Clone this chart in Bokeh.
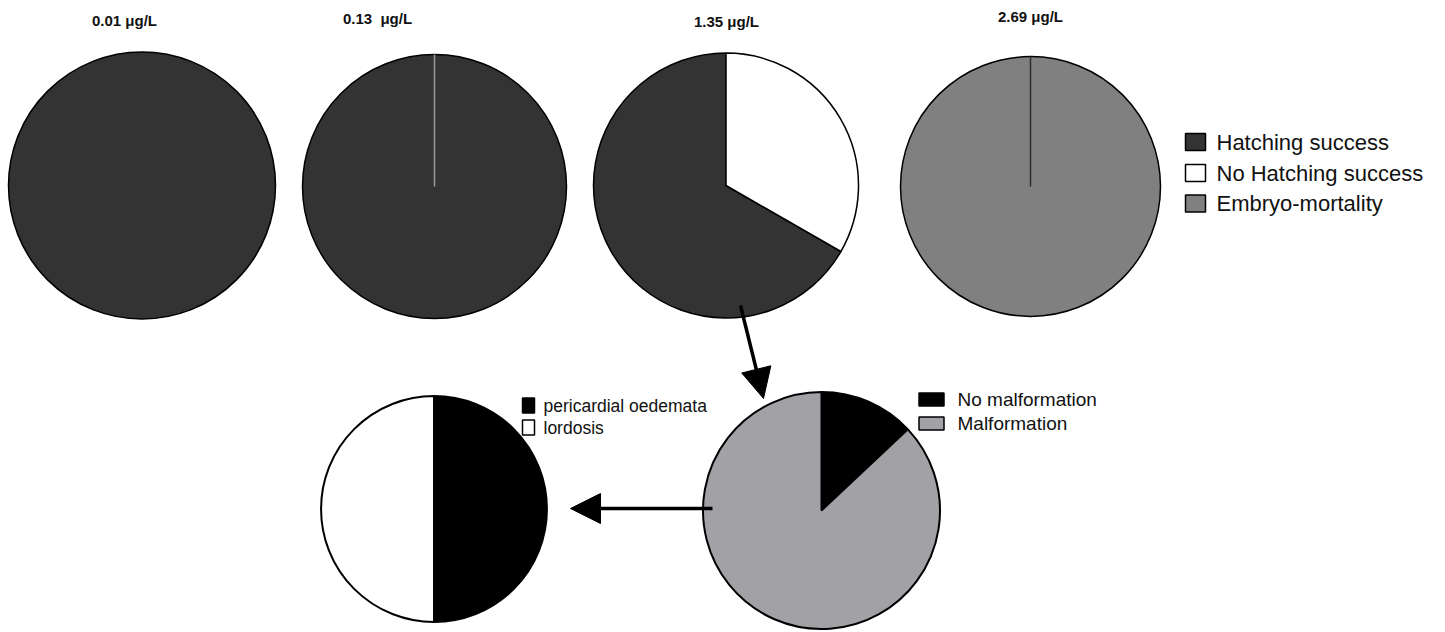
import math
from bokeh.plotting import figure
from bokeh.models import Range1d, Arrow, NormalHead
from bokeh.core.properties import value
from bokeh.embed import file_html
from bokeh.resources import INLINE

# ---------------- data ----------------
top_titles = ["0.01 μg/L", "0.13\u00a0 μg/L", "1.35 μg/L", "2.69 μg/L"]
top_categories = ["Hatching success", "No Hatching success", "Embryo-mortality"]
hatching_success = [100, 100, 66.7, 0]
no_hatching_success = [0, 0, 33.3, 0]
embryo_mortality = [0, 0, 0, 100]

malformation_categories = ["No malformation", "Malformation"]
malformation_values = [13, 87]

defect_categories = ["pericardial oedemata", "lordosis"]
defect_values = [50, 50]

# ---------------- styles / layout ----------------
top_colors = ["#333333", "#ffffff", "#808080"]
malf_colors = ["#000000", "#a2a2a6"]
defect_colors = ["#000000", "#ffffff"]
divider_colors = [None, "#9a9a9a", None, "#2e2e2e"]

W, H = 1445, 632
FONT = value("Liberation Sans")


def Y(s):
    return H - s


p = figure(width=W, height=H, output_backend="svg", toolbar_location=None,
           x_range=Range1d(0, W), y_range=Range1d(0, H),
           x_axis_type=None, y_axis_type=None, min_border=0)
p.outline_line_color = None
p.grid.visible = False
p.background_fill_color = "white"


def draw_pie(cx, cy, r, vals, colors, lw=1.5, line_color="black", clockwise=True):
    total = float(sum(vals))
    sgn = -1 if clockwise else 1
    cum = 0.0
    for v, c in zip(vals, colors):
        if v <= 0:
            continue
        f0 = cum / total
        f1 = (cum + v) / total
        cum += v
        if f1 - f0 >= 0.9999:
            p.circle(x=[cx], y=[cy], radius=r, fill_color=c, line_color=line_color,
                     line_width=lw)
        else:
            p.wedge(x=[cx], y=[cy], radius=r,
                    start_angle=math.pi / 2 + sgn * 2 * math.pi * f0,
                    end_angle=math.pi / 2 + sgn * 2 * math.pi * f1,
                    direction="clock" if clockwise else "anticlock",
                    fill_color=c, line_color=line_color, line_width=lw)


# top row pies
top_centers = [(141.5, 185), (434, 186), (725.5, 185), (1030, 186)]
top_radii = [133.5, 132, 132.5, 130]
title_pos = [(124, 20), (377, 18), (726, 21), (1030, 16)]
for i in range(4):
    cx, cy = top_centers[i]
    vals = [hatching_success[i], no_hatching_success[i], embryo_mortality[i]]
    draw_pie(cx, Y(cy), top_radii[i], vals, top_colors, clockwise=False)
    if divider_colors[i]:
        p.segment(x0=[cx], y0=[Y(cy)], x1=[cx], y1=[Y(cy) + top_radii[i]],
                  line_color=divider_colors[i], line_width=1.5)
    tx, ty = title_pos[i]
    p.text(x=[tx], y=[Y(ty)], text=[top_titles[i]], text_font=FONT,
           text_font_style="bold", text_font_size="15px", text_align="center",
           text_baseline="middle", text_color="#111111")

# top legend
leg_y = [141.5, 172.5, 203]
for cat, col, ly in zip(top_categories, top_colors, leg_y):
    p.rect(x=[1195], y=[Y(ly)], width=20, height=17, fill_color=col,
           line_color="black", line_width=1.5)
    p.text(x=[1216], y=[Y(ly)], text=[cat], text_font=FONT, text_font_size="22px",
           text_align="left", text_baseline="middle", text_color="#111111")

# malformation pie
draw_pie(821, Y(510), 118.5, malformation_values, malf_colors, lw=2)
# defect pie
draw_pie(433.5, Y(508.5), 113, defect_values, defect_colors, lw=2)

# bottom legends
for cat, col, ly in zip(defect_categories, defect_colors, [405, 427]):
    p.rect(x=[528], y=[Y(ly)], width=12, height=15, fill_color=col,
           line_color="black", line_width=1.5)
    p.text(x=[543], y=[Y(ly)], text=[cat], text_font=FONT, text_font_size="17.5px",
           text_align="left", text_baseline="middle", text_color="#111111")
for cat, col, ly in zip(malformation_categories, malf_colors, [399, 423]):
    p.rect(x=[931], y=[Y(ly)], width=25, height=13, fill_color=col,
           line_color="black", line_width=1.5)
    p.text(x=[957], y=[Y(ly)], text=[cat], text_font=FONT, text_font_size="19px",
           text_align="left", text_baseline="middle", text_color="#111111")

# arrows
p.add_layout(Arrow(x_start=740, y_start=Y(305), x_end=763, y_end=Y(398),
                   line_width=3.5, line_color="black",
                   end=NormalHead(size=30, fill_color="black", line_color="black")))
p.add_layout(Arrow(x_start=712, y_start=Y(508), x_end=570, y_end=Y(508),
                   line_width=3.5, line_color="black",
                   end=NormalHead(size=30, fill_color="black", line_color="black")))

open("out.html", "w").write(file_html(p, INLINE))
